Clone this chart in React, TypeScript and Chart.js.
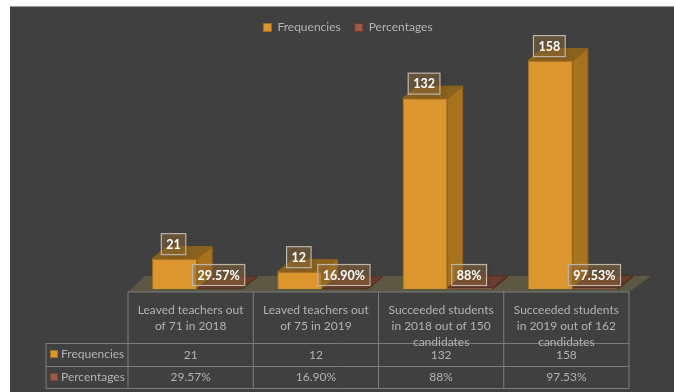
import { useEffect, useRef } from "react";
import { Chart, registerables, type Plugin } from "chart.js";

Chart.register(...registerables);

const categoryLines = [
  ["Leaved teachers out", "of 71 in 2018"],
  ["Leaved teachers out", "of 75 in 2019"],
  ["Succeeded students", "in 2018 out of 150", "candidates"],
  ["Succeeded students", "in 2019 out of 162", "candidates"],
];
const frequencies = [21, 12, 132, 158];
const percentages = [0.2957, 0.169, 0.88, 0.9753];
const frequencyLabels = ["21", "12", "132", "158"];
const percentageLabels = ["29.57%", "16.90%", "88%", "97.53%"];
const seriesNames = ["Frequencies", "Percentages"];

const FONT = "Lato, Carlito, 'Open Sans', sans-serif";
const PANEL = "#404040";
const TEXT = "#b3b3b3";
const RULE = "#7d7d7d";
const ORANGE = "#dd962e";
const ORANGE_EDGE = "#a56f1e";
const BROWN = "#9c5a48";

// Depth of the extruded faces and how far the group sits right of its table column.
const DEPTH_X = 15;
const DEPTH_Y = 12;
const COLUMN_SHIFT = 6.5;

function poly(ctx: CanvasRenderingContext2D, pts: number[][], fill: string, stroke?: string) {
  ctx.beginPath();
  pts.forEach(([x, y], i) => (i ? ctx.lineTo(x, y) : ctx.moveTo(x, y)));
  ctx.closePath();
  ctx.fillStyle = fill;
  ctx.fill();
  if (stroke) {
    ctx.strokeStyle = stroke;
    ctx.lineWidth = 1;
    ctx.stroke();
  }
}

const panelPlugin: Plugin<"bar"> = {
  id: "panel",
  afterLayout(chart) {
    // The legend is centred on the whole panel, not on the plot area.
    const legend = chart.legend as any;
    legend.left = 0;
    legend.right = 696;
    legend.top += 7.5;
    legend.bottom += 7.5;
  },
  beforeDraw(chart) {
    const { ctx, width, height } = chart;
    ctx.save();
    ctx.fillStyle = "#ffffff";
    ctx.fillRect(0, 0, width, height);
    ctx.fillStyle = PANEL;
    ctx.fillRect(10, 6, width - 10, height - 6);
    ctx.fillStyle = "#9a9a9a";
    ctx.fillRect(10, 6, width - 10, 1);
    ctx.restore();
  },
  beforeDatasetsDraw(chart) {
    const { ctx, chartArea } = chart;
    const left = chartArea.left - COLUMN_SHIFT;
    const right = chartArea.right - COLUMN_SHIFT;
    const base = chartArea.bottom;
    ctx.save();
    // Floor of the 3D plot.
    poly(ctx, [
      [left, base + 3],
      [left + 17, base - DEPTH_Y - 1],
      [right + 22, base - DEPTH_Y - 1],
      [right, base + 3],
    ], "#5d5844");
    // Side and top faces behind every bar.
    const faces = [
      { top: "#8a621f", side: "#a8721f", edge: "#8f6219" },
      { top: "#6b3c2f", side: "#5d3328", edge: "#55301f" },
    ];
    chart.data.datasets.forEach((_, d) => {
      chart.getDatasetMeta(d).data.forEach((el: any) => {
        const l = el.x - el.width / 2;
        const r = el.x + el.width / 2;
        const f = faces[d];
        poly(ctx, [[r, el.y], [r + DEPTH_X, el.y - DEPTH_Y], [r + DEPTH_X, el.base - DEPTH_Y], [r, el.base]], f.side, f.edge);
        poly(ctx, [[l, el.y], [l + DEPTH_X, el.y - DEPTH_Y], [r + DEPTH_X, el.y - DEPTH_Y], [r, el.y]], f.top, f.edge);
      });
    });
    ctx.restore();
  },
  afterDatasetsDraw(chart) {
    const { ctx, chartArea } = chart;
    const xScale = chart.scales.x;
    const left = chartArea.left - COLUMN_SHIFT;
    const right = chartArea.right - COLUMN_SHIFT;
    const step = (right - left) / categoryLines.length;
    const tableTop = chartArea.bottom + 3;
    const rowA = 343;
    const rowB = 366;
    const rowC = 388;
    const headLeft = 46;

    ctx.save();
    // Value labels above each bar.
    const groups = [
      { labels: frequencyLabels, dx: -1, y: (el: any) => el.y - 14.5 },
      { labels: percentageLabels, dx: -1, y: (el: any) => el.base - 14 },
    ];
    ctx.font = `bold 12.5px ${FONT}`;
    ctx.textAlign = "center";
    ctx.textBaseline = "middle";
    groups.forEach((g, d) => {
      chart.getDatasetMeta(d).data.forEach((el: any, i: number) => {
        const cx = el.x + g.dx;
        const cy = g.y(el);
        const w = ctx.measureText(g.labels[i]).width + 10;
        ctx.shadowColor = "rgba(0,0,0,0.25)";
        ctx.shadowBlur = 5;
        ctx.shadowOffsetX = 2;
        ctx.shadowOffsetY = 2;
        ctx.fillStyle = "rgba(150,110,60,0.45)";
        ctx.fillRect(cx - w / 2, cy - 10.5, w, 21);
        ctx.shadowColor = "transparent";
        ctx.strokeStyle = "#bdb5aa";
        ctx.lineWidth = 1.2;
        ctx.strokeRect(cx - w / 2, cy - 10.5, w, 21);
        ctx.fillStyle = "#ffffff";
        ctx.fillText(g.labels[i], cx, cy + 0.5);
      });
    });

    // Data table below the plot.
    ctx.strokeStyle = RULE;
    ctx.lineWidth = 1;
    ctx.beginPath();
    ctx.moveTo(left, tableTop);
    ctx.lineTo(right, tableTop);
    [rowA, rowB, rowC].forEach((y) => {
      ctx.moveTo(headLeft, y + 0.5);
      ctx.lineTo(right, y + 0.5);
    });
    ctx.moveTo(headLeft, rowA);
    ctx.lineTo(headLeft, rowC);
    for (let i = 0; i <= categoryLines.length; i++) {
      const x = left + step * i;
      ctx.moveTo(x, tableTop);
      ctx.lineTo(x, rowC);
    }
    ctx.stroke();

    ctx.font = `12px ${FONT}`;
    ctx.fillStyle = TEXT;
    categoryLines.forEach((lines, i) => {
      const cx = xScale.getPixelForValue(i) - COLUMN_SHIFT;
      lines.forEach((line, n) => ctx.fillText(line, cx, 310 + n * 16));
      ctx.fillText(frequencyLabels[i], cx, 355);
      ctx.fillText(percentageLabels[i], cx, 377);
    });

    ctx.textAlign = "left";
    [ORANGE, BROWN].forEach((colour, r) => {
      const y = r ? 377 : 354;
      ctx.fillStyle = colour;
      ctx.fillRect(50.5, y - 3.5, 7, 7);
      ctx.strokeStyle = r ? "#7a4436" : ORANGE_EDGE;
      ctx.strokeRect(50.5, y - 3.5, 7, 7);
      ctx.fillStyle = TEXT;
      ctx.fillText(seriesNames[r], 61, y);
    });
    ctx.restore();
  },
};

export default function App() {
  const ref = useRef<HTMLCanvasElement>(null);

  useEffect(() => {
    if (!ref.current) return;
    const chart = new Chart(ref.current, {
      type: "bar",
      data: {
        labels: categoryLines.map((l) => l.join(" ")),
        datasets: [
          { label: seriesNames[0], data: frequencies, backgroundColor: ORANGE, borderColor: ORANGE_EDGE, borderWidth: 1 },
          { label: seriesNames[1], data: percentages, backgroundColor: BROWN, borderColor: "#6b3c2f", borderWidth: 1 },
        ],
      },
      options: {
        animation: false,
        responsive: false,
        layout: { padding: { left: 134.5, right: 38.5, top: 0, bottom: 103 } },
        datasets: { bar: { categoryPercentage: 0.72, barPercentage: 1 } },
        scales: {
          x: { display: false },
          y: { display: false, min: 0, max: 175 },
        },
        plugins: {
          tooltip: { enabled: false },
          legend: {
            position: "top",
            labels: {
              boxWidth: 8,
              boxHeight: 8,
              padding: 14,
              color: TEXT,
              font: { family: FONT, size: 12 },
            },
          },
        },
      },
      plugins: [panelPlugin],
    });
    return () => chart.destroy();
  }, []);

  return (
    <canvas
      ref={ref}
      width={674}
      height={392}
      style={{ position: "absolute", left: 0, top: 0, display: "block" }}
    />
  );
}
